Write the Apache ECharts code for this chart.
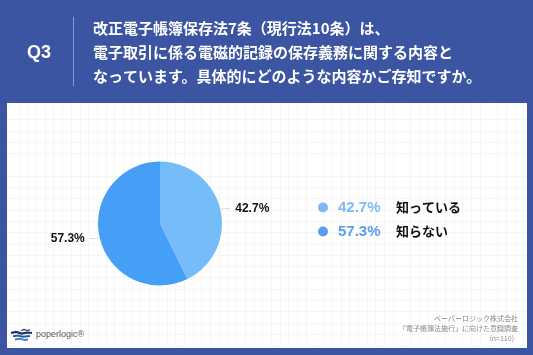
<!DOCTYPE html>
<html>
<head>
<meta charset="utf-8">
<script src="https://cdn.jsdelivr.net/npm/echarts@6/dist/echarts.min.js"></script>
<style>
  html, body { margin:0; padding:0; width:533px; height:355px; overflow:hidden; background:#3b55a3; }
  #card { position:absolute; left:7px; top:103px; width:520px; height:245px; background-color:#fff;
    background-image:
      repeating-linear-gradient(to right, transparent 0, transparent 7.7px, #f6f6f6 7.7px, #f6f6f6 8.7px),
      repeating-linear-gradient(to bottom, transparent 0, transparent 10.3px, #f6f6f6 10.3px, #f6f6f6 11.3px);
    background-position: 4px 0, 0 6px; }
  #chart { position:absolute; left:0; top:0; width:533px; height:355px; }
</style>
</head>
<body>
<div id="card"></div>
<div id="chart"></div>
<script>
const questionNo = 'Q3';
const questionLines = [
  '改正電子帳簿保存法7条（現行法10条）は、',
  '電子取引に係る電磁的記録の保存義務に関する内容と',
  'なっています。具体的にどのような内容かご存知ですか。'
];
const categories = ['知っている', '知らない'];
const values = [42.7, 57.3];
const sliceColors = ['#74bdf8', '#469ff6'];
const legendColors = ['#7db9f5', '#5b9cf0'];
const footerLines = ['ペーパーロジック株式会社', '「電子帳簿法施行」に向けた意識調査', '(n=110)'];
const brand = 'poperlogic®';

const chart = echarts.init(document.getElementById('chart'), null, { renderer: 'canvas' });
const cjk = '"Noto Sans CJK JP", "Noto Sans", sans-serif';
const latin = '"Liberation Sans", Arial, "Noto Sans CJK JP", sans-serif';

const graphics = [
  { type: 'text', left: 27, top: 44, style: { text: questionNo, fill: '#fff', font: 'bold 18px ' + latin } },
  { type: 'line', shape: { x1: 73.5, y1: 17, x2: 73.5, y2: 86 }, style: { stroke: '#8b9bcc', lineWidth: 1 } },
  // logo
  { type: 'polyline', shape: { points: [[11,333],[16,332],[22,333.5],[27,332.5],[32,333]] }, style: { stroke: '#1d2f63', lineWidth: 2.2, fill: null } },
  { type: 'polyline', shape: { points: [[13,336.3],[18,335.5],[23,336.8],[30,336]] }, style: { stroke: '#2c5aa8', lineWidth: 2, fill: null } },
  { type: 'polyline', shape: { points: [[15,339.5],[20,338.7],[25,340],[28,339.3]] }, style: { stroke: '#3f78c4', lineWidth: 1.8, fill: null } },
  { type: 'polyline', shape: { points: [[21,330.5],[24,329.5],[27,330.5],[30,329.8]] }, style: { stroke: '#1d2f63', lineWidth: 1.2, fill: null } },
  { type: 'text', left: 36, top: 330, style: { text: brand, fill: '#555', font: '9px ' + latin } }
];
questionLines.forEach((t, i) => {
  graphics.push({ type: 'text', left: 93, top: 21 + i * 24, style: { text: t, fill: '#fff', font: 'bold 15px ' + cjk } });
});
footerLines.forEach((t, i) => {
  graphics.push({ type: 'text', right: 15 + (i === 2 ? 4 : 0), top: 315 + i * 10, style: { text: t, fill: '#888', font: '7px ' + cjk, textAlign: 'right' } });
});

chart.setOption({
  animation: false,
  graphic: graphics,
  legend: {
    orient: 'vertical',
    left: 313,
    top: 195,
    itemWidth: 10,
    itemHeight: 10,
    itemGap: 9,
    icon: 'circle',
    data: categories.map((c, i) => ({ name: c, itemStyle: { color: legendColors[i] } })),
    formatter: function (name) {
      const i = categories.indexOf(name);
      return '{p' + i + '|' + values[i].toFixed(1) + '%}{n|' + name + '}';
    },
    textStyle: {
      rich: {
        p0: { color: legendColors[0], fontSize: 15, fontFamily: latin, fontWeight: 'bold', width: 58, lineHeight: 15, padding: [0,0,0,5] },
        p1: { color: legendColors[1], fontSize: 15, fontFamily: latin, fontWeight: 'bold', width: 58, lineHeight: 15, padding: [0,0,0,5] },
        n: { color: '#111', fontSize: 13, fontFamily: cjk, fontWeight: 'bold', lineHeight: 15 }
      }
    }
  },
  series: [{
    type: 'pie',
    center: [160, 223.5],
    radius: 62,
    startAngle: 90,
    clockwise: true,
    data: categories.map((c, i) => ({ name: c, value: values[i], itemStyle: { color: sliceColors[i] } })),
    label: {
      show: true,
      position: 'outside',
      formatter: p => p.value.toFixed(1) + '%',
      color: '#111',
      fontSize: 12,
      fontWeight: 'bold',
      fontFamily: latin
    },
    labelLine: { show: true, length: 4, length2: 6, lineStyle: { color: '#ddd', width: 1 } },
    emphasis: { disabled: true }
  }]
});
</script>
</body>
</html>
